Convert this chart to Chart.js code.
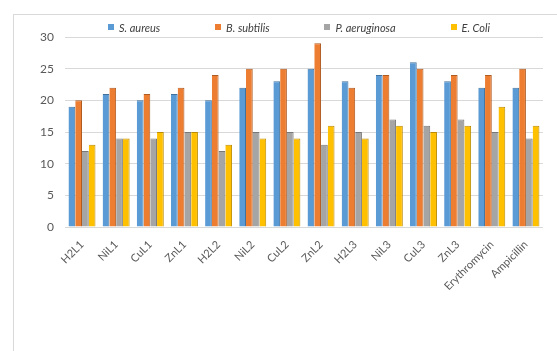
<!DOCTYPE html>
<html>
<head>
<meta charset="utf-8">
<script src="https://cdn.jsdelivr.net/npm/chart.js@4"></script>
<style>
  html, body { margin: 0; padding: 0; background: #fff; }
  body { font-family: Lato, 'Open Sans', sans-serif; }
  #frame { position: absolute; left: 13px; top: 14px; width: 560px; height: 360px;
           border-left: 1px solid #d9d9d9; border-top: 1px solid #d9d9d9; }
  #c { position: absolute; left: 0; top: 0; }
  #legend { position: absolute; left: 108px; width: 382px; top: 20px; height: 14px;
            display: flex; justify-content: space-between; align-items: center;
            font-size: 11px; font-style: italic; color: #404040; }
  #legend span.item { display: flex; align-items: center; white-space: nowrap; }
  #legend i.box { display: inline-block; width: 6px; height: 6px; margin-right: 5px; }
</style>
</head>
<body>
<div id="frame"></div>
<canvas id="c" width="557" height="351"></canvas>
<div id="legend"></div>
<script>
// compounds tested
const categories = ["H2L1", "NiL1", "CuL1", "ZnL1", "H2L2", "NiL2", "CuL2", "ZnL2",
                    "H2L3", "NiL3", "CuL3", "ZnL3", "Erythromycin", "Ampicillin"];

// inhibition zone per strain
const sAureus     = [19, 21, 20, 21, 20, 22, 23, 25, 23, 24, 26, 23, 22, 22];
const bSubtilis   = [20, 22, 21, 22, 24, 25, 25, 29, 22, 24, 25, 24, 24, 25];
const pAeruginosa = [12, 14, 14, 15, 12, 15, 15, 13, 15, 17, 16, 17, 15, 14];
const eColi       = [13, 14, 15, 15, 13, 14, 14, 16, 14, 16, 15, 16, 19, 16];

const yTicks = [0, 5, 10, 15, 20, 25, 30];

const font = "Lato, 'Open Sans', sans-serif";

function ds(label, data, color, edge) {
    return { label: label, data: data, backgroundColor: color, borderColor: edge,
             borderWidth: { right: 1, top: 1 }, borderSkipped: "bottom" };
}

const chart = new Chart(document.getElementById("c").getContext("2d"), {
    type: "bar",
    data: {
        labels: categories,
        datasets: [
            ds("S. aureus", sAureus, "#5b9bd5", "#41719c"),
            ds("B. subtilis", bSubtilis, "#ed7d31", "#ae5a21"),
            ds("P. aeruginosa", pAeruginosa, "#a5a5a5", "#787878"),
            ds("E. Coli", eColi, "#ffc000", "#bc8c00")
        ]
    },
    options: {
        responsive: false,
        animation: false,
        categoryPercentage: 0.79,
        barPercentage: 1.0,
        layout: { padding: { left: 29, right: 14, top: 37, bottom: 55 } },
        plugins: {
            legend: { display: false },
            tooltip: { enabled: false }
        },
        scales: {
            x: {
                grid: { display: false },
                border: { display: false },
                ticks: {
                    color: "#595959", minRotation: 45, maxRotation: 45,
                    font: { family: font, size: 11 }
                }
            },
            y: {
                min: 0, max: 30,
                afterBuildTicks: axis => { axis.ticks = yTicks.map(v => ({ value: v })); },
                grid: { color: "#d9d9d9", drawTicks: false },
                border: { display: false },
                ticks: { color: "#595959", padding: 11, font: { family: font, size: 12 } }
            }
        }
    }
});

// legend built from the chart's datasets
const legend = document.getElementById("legend");
chart.data.datasets.forEach(d => {
    const item = document.createElement("span");
    item.className = "item";
    const box = document.createElement("i");
    box.className = "box";
    box.style.background = d.backgroundColor;
    item.appendChild(box);
    item.appendChild(document.createTextNode(d.label));
    legend.appendChild(item);
});
</script>
</body>
</html>
